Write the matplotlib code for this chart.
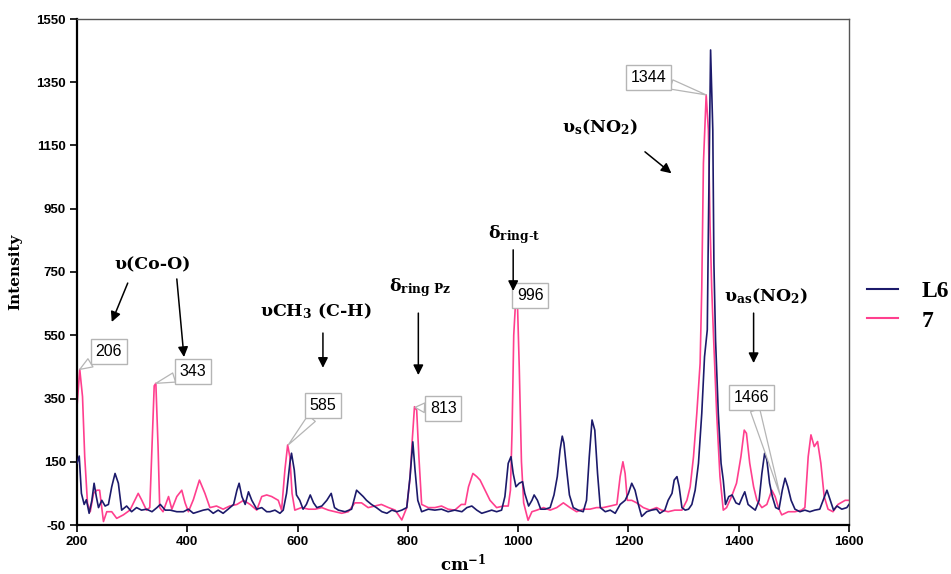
import matplotlib
matplotlib.use("Agg")
import matplotlib.pyplot as plt
from matplotlib.lines import Line2D

# ---------------- data ----------------
wn_7 = [200, 205, 210, 214, 219, 224, 230, 236, 241, 248, 254, 263, 272, 284, 296, 311, 317, 326,
        332, 336, 340, 343, 347, 350, 356, 366, 372, 381, 390, 396, 402, 411, 422, 432, 441, 453,
        465, 477, 490, 502, 514, 526, 535, 544, 553, 565, 571, 577, 582, 586, 590, 595, 607, 620,
        632, 644, 656, 668, 680, 692, 704, 716, 728, 740, 752, 765, 777, 789, 798, 804, 808, 812,
        816, 820, 825, 837, 849, 861, 873, 885, 897, 904, 910, 918, 925, 931, 940, 949, 961, 973,
        982, 986, 989, 992, 995, 999, 1002, 1006, 1010, 1018, 1025, 1034, 1046, 1058, 1070, 1082,
        1094, 1106, 1118, 1130, 1142, 1154, 1167, 1179, 1185, 1190, 1194, 1198, 1206, 1215, 1227,
        1239, 1251, 1260, 1272, 1284, 1297, 1306, 1312, 1318, 1324, 1330, 1333, 1336, 1341, 1345,
        1348, 1351, 1354, 1360, 1366, 1372, 1378, 1387, 1396, 1404, 1410, 1414, 1420, 1427, 1433,
        1442, 1451, 1460, 1466, 1472, 1478, 1490, 1502, 1514, 1520, 1526, 1531, 1537, 1543, 1549,
        1555, 1562, 1571, 1580, 1593, 1600]
int_7 = [324, 442, 356, 166, 19, -8, 50, 60, 60, -39, -8, -8, -29, -18, -3, 50, 30, -3,
         5, 200, 390, 398, 198, 5, -8, 40, 0, 40, 60, 20, -8, 30, 92, 50, 5, 10,
         0, 10, 15, 28, 15, -3, 40, 45, 40, 28, -3, 124, 203, 166, 50, -3, 5, 0,
         0, 5, -3, -8, -13, -8, 20, 20, 5, 10, 15, 5, -3, -34, 5, 100, 219, 324,
         313, 166, 15, 5, 5, 10, 0, -3, 15, 15, 71, 113, 103, 92, 60, 28, 5, 10,
         10, 60, 250, 550, 645, 635, 450, 150, 20, -35, -8, -3, 5, -3, 5, 20,
         5, -8, 0, 0, 5, 5, 10, 15, 103, 150, 113, 28, 28, 20, 5,
         -3, 5, -3, -8, -3, -3, 28, 71, 166, 303, 461, 700, 1094, 1310, 1199,
         900, 700, 560, 303, 103, -3, 5, 40, 82, 166, 250, 240, 145, 71, 28,
         5, 15, 60, 40, 5, -18, -8, -8, -3, 5, 166, 235, 198, 214, 145,
         40, 0, -8, 15, 28, 28]

wn_L6 = [200, 204, 208, 213, 217, 222, 227, 231, 235, 239, 245, 251, 257, 263, 269, 275, 281, 290,
         299, 308, 317, 326, 336, 345, 351, 360, 369, 381, 393, 402, 411, 420, 429, 438, 447, 456,
         465, 474, 484, 490, 494, 499, 505, 511, 517, 526, 535, 544, 550, 559, 568, 574, 580, 586,
         589, 594, 598, 604, 610, 616, 623, 629, 635, 644, 653, 661, 667, 674, 686, 698, 707, 713,
         719, 725, 734, 743, 753, 762, 771, 780, 789, 798, 804, 809, 813, 818, 825, 837, 849, 861,
         873, 885, 898, 907, 916, 925, 934, 943, 952, 961, 970, 976, 982, 987, 991, 996, 1002, 1008,
         1012, 1019, 1025, 1029, 1035, 1041, 1049, 1058, 1065, 1071, 1076, 1080, 1083, 1088, 1093,
         1100, 1109, 1118, 1124, 1129, 1134, 1139, 1144, 1149, 1158, 1167, 1176, 1185, 1194, 1200,
         1206, 1212, 1218, 1224, 1233, 1242, 1251, 1257, 1266, 1272, 1279, 1283, 1288, 1292, 1297,
         1303, 1309, 1315, 1321, 1327, 1333, 1338, 1343, 1345, 1349, 1353, 1355, 1358, 1363, 1368,
         1372, 1376, 1382, 1388, 1395, 1401, 1407, 1411, 1417, 1424, 1430, 1437, 1442, 1447, 1451,
         1456, 1461, 1467, 1473, 1479, 1484, 1489, 1495, 1502, 1511, 1520, 1529, 1538, 1547, 1553,
         1560, 1566, 1572, 1578, 1587, 1596, 1600]
int_L6 = [145, 168, 50, 15, 30, -13, 28, 82, 40, 5, 28, 10, 15, 71, 113, 82, -3, 10,
          -8, 5, -3, 0, -8, 5, 15, -3, -3, -8, -8, 0, -13, -8, -3, 0, -13, -3,
          -13, 0, 15, 60, 82, 40, 15, 55, 28, 0, 5, -8, -8, -3, -13, -3, 50, 145,
          177, 124, 45, 28, 0, 15, 45, 20, 5, 10, 28, 50, 5, -3, -8, 0, 60, 50,
          40, 28, 15, 5, -8, -13, -3, -8, -3, 5, 103, 213, 124, 28, -8, 0, -3, 0,
          -8, -3, -8, 5, 10, -3, -13, -8, -3, -8, -3, 40, 145, 166, 113, 71, 82, 87,
          50, 10, 28, 45, 28, 0, 0, 5, 45, 103, 187, 231, 209, 124, 45,
          5, -3, -8, 28, 166, 282, 250, 113, 5, -8, -3, -13, 15, 28, 50,
          82, 60, 15, -23, -8, -3, 0, -13, -3, 28, 50, 92, 103, 71, 5,
          -3, 0, 15, 60, 145, 303, 482, 567, 883, 1452, 1199, 779, 535, 303, 145,
          92, 15, 40, 45, 20, 15, 40, 55, 15, 5, -3, 28, 113, 177, 156,
          82, 40, 5, 0, 60, 98, 71, 28, 0, -8, -3, -8, -3, 0, 28,
          60, 28, -3, 10, 0, 5, 15]

series_names = ["L6", "7"]
series_colors = ["#1c1a6b", "#ff3f8e"]

x_ticks = [200, 400, 600, 800, 1000, 1200, 1400, 1600]
y_ticks = [-50, 150, 350, 550, 750, 950, 1150, 1350, 1550]

peak_labels = ["206", "343", "585", "813", "996", "1344", "1466"]
peak_points = [(205, 442), (343, 398), (583, 203), (813, 322), (995, 645), (1341, 1310), (1475, 45)]
label_boxes = [(258, 499), (410, 435), (646, 328), (864, 318), (1022, 676), (1236, 1365), (1423, 353)]

# ---------------- figure ----------------
plt.rcParams['mathtext.default'] = 'regular'
fig = plt.figure(figsize=(9.51, 5.74), dpi=100)
ax = fig.add_axes([77/951, 49/574, 772/951, 506/574])

ax.plot(wn_L6, int_L6, color=series_colors[0], lw=1.2, zorder=3)
ax.plot(wn_7, int_7, color=series_colors[1], lw=1.2, zorder=2)

ax.set_xlim(200, 1600)
ax.set_ylim(-50, 1550)
ax.set_xticks(x_ticks)
ax.set_yticks(y_ticks)
tick_font = dict(family="Liberation Sans", weight="bold", size=9.5)
ax.set_xticklabels([str(t) for t in x_ticks], **tick_font)
ax.set_yticklabels([str(t) for t in y_ticks], **tick_font)
ax.tick_params(direction="out", length=5, width=1.2, color="black", pad=3)

for s in ["left", "bottom"]:
    ax.spines[s].set_linewidth(1.6)
    ax.spines[s].set_color("black")
for s in ["top", "right"]:
    ax.spines[s].set_linewidth(1.0)
    ax.spines[s].set_color("#555555")

serif = "DejaVu Serif"
ax.set_ylabel("Intensity", family=serif, weight="bold", size=11, labelpad=10)
ax.set_xlabel("cm$^{-1}$", family=serif, weight="bold", size=12, labelpad=3)

# peak callouts
for lab, pt, bx in zip(peak_labels, peak_points, label_boxes):
    ax.annotate(lab, xy=pt, xytext=bx, ha="center", va="center",
                family="Liberation Sans", size=11.5, zorder=6,
                bbox=dict(boxstyle="square,pad=0.3", fc="white", ec="#b5b5b5", lw=1.0),
                arrowprops=dict(arrowstyle="wedge,tail_width=0.6,shrink_factor=0.5",
                                fc="white", ec="#b5b5b5", lw=0.9, shrinkA=0, shrinkB=0),
                annotation_clip=False)

# band assignments
txt = dict(family=serif, weight="bold", size=12.5, ha="center", va="center", zorder=7)
ax.text(337, 774, "υ(Co-O)", **txt)
ax.text(633, 627, "υCH$_3$ (C-H)", **txt)
ax.text(822, 700, "δ$_{ring\\ Pz}$", **txt)
ax.text(992, 867, "δ$_{ring\\text{-}t}$", **txt)
ax.text(1148, 1208, "υ$_s$(NO$_2$)", **txt)
ax.text(1450, 674, "υ$_{as}$(NO$_2$)", **txt)

arrows = [((292, 715), (263, 592)), ((381, 728), (394, 481)),
          ((646, 557), (646, 447)), ((819, 620), (819, 424)),
          ((991, 820), (991, 690)), ((1230, 1130), (1278, 1062)),
          ((1427, 620), (1427, 462))]
for start, end in arrows:
    ax.annotate("", xy=end, xytext=start,
                arrowprops=dict(arrowstyle="-|>,head_length=0.6,head_width=0.3",
                                color="black", lw=1.1, shrinkA=0, shrinkB=0),
                annotation_clip=False, zorder=7)

handles = [Line2D([], [], color=c, lw=1.5) for c in series_colors]
fig.legend(handles, series_names, loc="upper left", bbox_to_anchor=(858/951, 1 - 271/574),
           frameon=False, prop=dict(family="Liberation Serif", weight="bold", size=17),
           handlelength=1.3, handletextpad=1.0, labelspacing=0.35, borderaxespad=0)

fig.savefig("out.png", dpi=100)
